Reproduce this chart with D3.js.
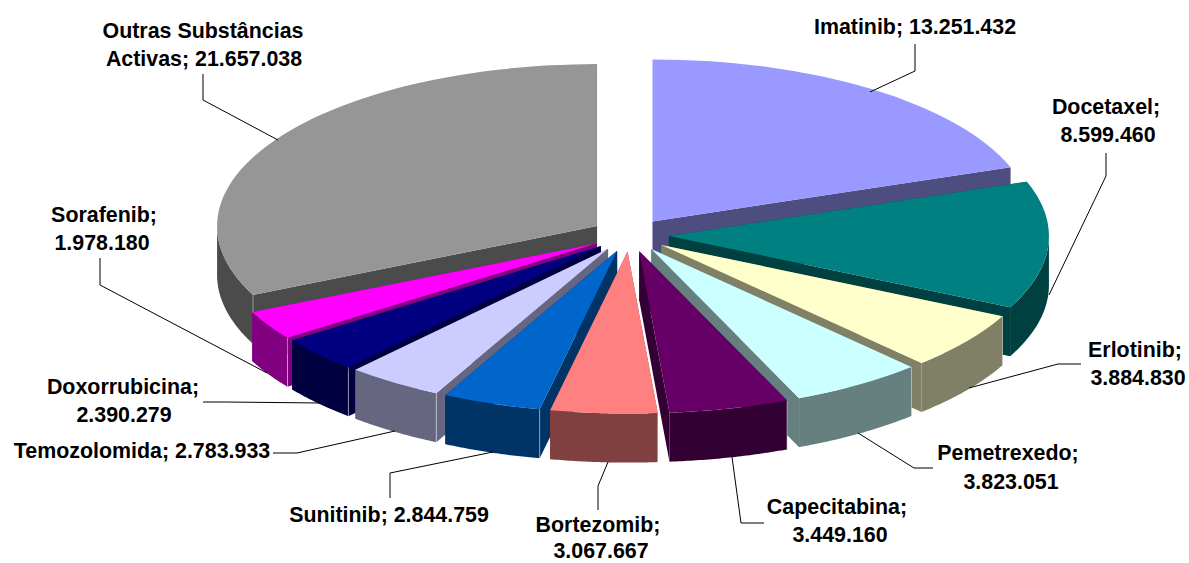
<!DOCTYPE html>
<html lang="pt">
<head>
<meta charset="utf-8">
<title>Substancias activas</title>
<script src="https://d3js.org/d3.v7.min.js"></script>
<style type="text/css">
	html, body { margin: 0; padding: 0; background: #fff; }
	svg { display: block; }
	text { font-family: "Liberation Sans", Arial, sans-serif; font-weight: bold; font-size: 21.4px; fill: #000; text-anchor: middle; }
</style>
</head>
<body>
<script type="text/javascript">
// data
var names = ["Imatinib", "Docetaxel", "Erlotinib", "Pemetrexedo", "Capecitabina", "Bortezomib",
	"Sunitinib", "Temozolomida", "Doxorrubicina", "Sorafenib", "Outras Substâncias Activas"];
var values = [13251432, 8599460, 3884830, 3823051, 3449160, 3067667, 2844759, 2783933, 2390279, 1978180, 21657038];
var valueLabels = ["13.251.432", "8.599.460", "3.884.830", "3.823.051", "3.449.160", "3.067.667",
	"2.844.759", "2.783.933", "2.390.279", "1.978.180", "21.657.038"];
var topColors = ["#9999FF", "#008080", "#FFFFCC", "#CCFFFF", "#660066", "#FF8080", "#0066CC", "#CCCCFF", "#000080", "#FF00FF", "#969696"];
var sideColors = ["#4D4D80", "#004040", "#808066", "#668080", "#330033", "#804040", "#003366", "#666680", "#000040", "#800080", "#4B4B4B"];

// layout
var width = 1189, height = 563;
var cx = 630, cy = 235, rx = 380, ry = 162, explode = 39, depth = 49;
var squash = ry / rx;

// label text lines (x and baseline per line) + leader line
var labelLayout = [
	{x: [915], lines: ["Imatinib; 13.251.432"], y: [34], leader: [[870, 92], [915, 71], [915, 44]]},
	{x: [1106, 1108], lines: ["Docetaxel;", "8.599.460"], y: [114, 142], leader: [[1049, 295], [1106, 176], [1106, 153]]},
	{x: [1135, 1138], lines: ["Erlotinib;", "3.884.830"], y: [357, 385], leader: [[969, 388], [1058, 364], [1081, 364]]},
	{x: [1008, 1011], lines: ["Pemetrexedo;", "3.823.051"], y: [460, 489], leader: [[858, 433], [914, 468], [933, 468]]},
	{x: [837, 840], lines: ["Capecitabina;", "3.449.160"], y: [514, 542], leader: [[732, 457], [741, 523], [764, 523]]},
	{x: [598, 601], lines: ["Bortezomib;", "3.067.667"], y: [532, 558], leader: [[608, 462], [598, 486], [598, 510]]},
	{x: [389], lines: ["Sunitinib; 2.844.759"], y: [522], leader: [[493, 452], [390, 473], [390, 498]]},
	{x: [142], lines: ["Temozolomida; 2.783.933"], y: [458], leader: [[395, 431], [297, 453], [273, 453]]},
	{x: [123, 124], lines: ["Doxorrubicina;", "2.390.279"], y: [394, 422], leader: [[320, 403], [225, 402], [203, 402]]},
	{x: [104, 102], lines: ["Sorafenib;", "1.978.180"], y: [222, 250], leader: [[267, 373], [100, 285], [100, 258]]},
	{x: [203, 204], lines: ["Outras Substâncias", "Activas; 21.657.038"], y: [38, 66], leader: [[278, 140], [203, 100], [203, 74]]}
];

var svg = d3.select("body").append("svg")
	.attr("width", width)
	.attr("height", height);

var pie = d3.pie().sort(null).value(function(d){ return d; });
var slices = pie(values);
var arc = d3.arc().innerRadius(0).outerRadius(rx);
var line = d3.line();

function centre(d){
	var mid = (d.startAngle + d.endAngle) / 2;
	return [cx + explode * Math.sin(mid), cy - explode * Math.cos(mid) * squash];
}

function rim(d, a, drop){
	var c = centre(d);
	return [c[0] + rx * Math.sin(a), c[1] - ry * Math.cos(a) + drop];
}

// flat wall from the apex out to the rim, at angle a
function cutWall(d, a){
	var c = centre(d);
	return line([c, rim(d, a, 0), rim(d, a, depth), [c[0], c[1] + depth]]) + "Z";
}

// curved wall, only the part of the rim facing the viewer
function outerWall(d){
	var a0 = Math.max(d.startAngle, Math.PI / 2),
		a1 = Math.min(d.endAngle, Math.PI * 3 / 2);
	if (a1 <= a0) return null;
	var angles = d3.range(0, 41).map(function(i){ return a0 + (a1 - a0) * i / 40; });
	var upper = angles.map(function(a){ return rim(d, a, 0); });
	var lower = angles.slice().reverse().map(function(a){ return rim(d, a, depth); });
	return line(upper.concat(lower)) + "Z";
}

// back slices first
var drawOrder = slices.slice().sort(function(a, b){
	return centre(a)[1] - centre(b)[1];
});

var pieces = svg.selectAll("g.slice")
	.data(drawOrder)
	.enter()
	.append("g")
	.attr("class", "slice");

pieces.append("path")
	.attr("d", function(d){ return cutWall(d, d.startAngle); })
	.attr("fill", function(d){ return sideColors[d.index]; });

pieces.append("path")
	.attr("d", function(d){ return cutWall(d, d.endAngle); })
	.attr("fill", function(d){ return sideColors[d.index]; });

pieces.append("path")
	.attr("d", outerWall)
	.attr("fill", function(d){ return sideColors[d.index]; });

// pale corner line where the walls meet
pieces.filter(function(d){ return d.startAngle > Math.PI / 2 && d.startAngle < Math.PI * 3 / 2; })
	.append("path")
	.attr("d", function(d){ return line([rim(d, d.startAngle, 0), rim(d, d.startAngle, depth)]); })
	.attr("stroke", "#fff")
	.attr("stroke-opacity", 0.45)
	.attr("fill", "none");

pieces.append("path")
	.attr("d", function(d){ return arc(d); })
	.attr("transform", function(d){
		var c = centre(d);
		return "translate(" + c[0] + "," + c[1] + ") scale(1," + squash + ")";
	})
	.attr("fill", function(d){ return topColors[d.index]; });

// leader lines
svg.selectAll("path.leader")
	.data(labelLayout)
	.enter()
	.append("path")
	.attr("class", "leader")
	.attr("d", function(d){ return line(d.leader); })
	.attr("fill", "none")
	.attr("stroke", "#000")
	.attr("stroke-width", 1);

// labels
var labels = svg.selectAll("text")
	.data(labelLayout)
	.enter()
	.append("text");

labels.selectAll("tspan")
	.data(function(d){
		return d.lines.map(function(t, i){ return {text: t, x: d.x[i], y: d.y[i]}; });
	})
	.enter()
	.append("tspan")
	.attr("x", function(d){ return d.x; })
	.attr("y", function(d){ return d.y; })
	.text(function(d){ return d.text; });
</script>
</body>
</html>
